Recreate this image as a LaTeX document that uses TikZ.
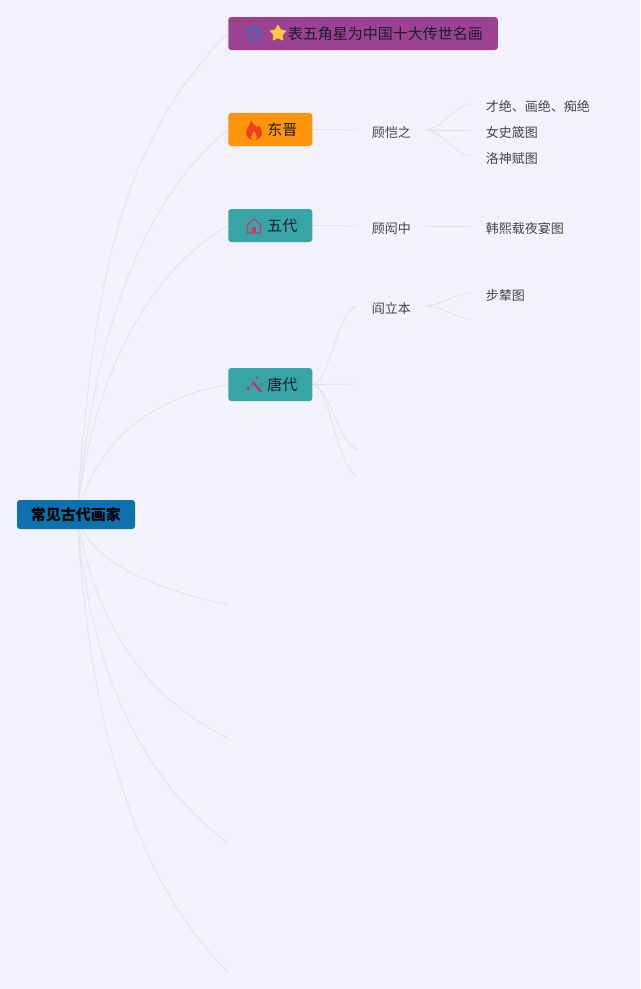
\documentclass[tikz,border=0pt]{standalone}
\usepackage{fontspec}
\setmainfont{Noto Sans CJK SC}
\usetikzlibrary{shapes.geometric,backgrounds,calc}
\definecolor{bgc}{HTML}{F3F1FB}
\definecolor{linec}{HTML}{E2E0E7}
\definecolor{purplec}{HTML}{9C4292}
\definecolor{orangec}{HTML}{FD940A}
\definecolor{tealc}{HTML}{37A5A5}
\definecolor{rootc}{HTML}{0B72AE}
\definecolor{darktext}{HTML}{1C1C2A}
\definecolor{leaftext}{HTML}{45454F}
\definecolor{pinkc}{HTML}{CC3A66}
\definecolor{magc}{HTML}{C92F6B}
\definecolor{bluestar}{HTML}{3F6DB5}
\definecolor{goldstar}{HTML}{FFC93A}
\definecolor{flamec}{HTML}{EE401A}
\tikzset{
  x=0.75pt,y=-0.75pt,
  topicbox/.style={rectangle,rounded corners=2.2pt,fill=#1,text=darktext,minimum height=24.75pt,inner xsep=11.25pt,inner ysep=0pt,anchor=west,font=\fontsize{11.25}{13}\selectfont},
  rootbox/.style={rectangle,rounded corners=2.2pt,fill=rootc,text=black,minimum height=21.75pt,minimum width=88.5pt,inner xsep=0pt,inner ysep=0pt,font=\fontsize{11.25}{13}\selectfont\bfseries},
  leaf/.style={rectangle,text=leaftext,inner xsep=11pt,inner ysep=1pt,anchor=west,font=\fontsize{9.75}{12}\selectfont},
  conn/.style={draw=linec,line width=0.55pt},
  staricon/.style={star,star points=5,star point ratio=2.0,minimum size=#1,inner sep=0pt,rounded corners=0.9pt},
}
\begin{document}
\begin{tikzpicture}
\useasboundingbox (0,0) rectangle (640,989);
% nodes
\node[rootbox] (root) at (76,514.5) {常见古代画家};
\coordinate (hub) at (77,515);
\node[topicbox=purplec] (t0) at (228,33.5) {\hspace*{33.4pt}表五角星为中国十大传世名画};
\node[topicbox=orangec] (t1) at (228,129.5) {\hspace*{18pt}东晋};
\node[topicbox=tealc] (t2) at (228,225.5) {\hspace*{18pt}五代};
\node[topicbox=tealc] (t3) at (228,384.5) {\hspace*{18pt}唐代};
\node[leaf] (gu) at (357,132.5) {顾恺之};
\node[leaf] (ga) at (471,106.5) {才绝、画绝、痴绝};
\node[leaf] (gb) at (471,132.5) {女史箴图};
\node[leaf] (gc) at (471,158.5) {洛神赋图};
\node[leaf] (hong) at (357,228.5) {顾闳中};
\node[leaf] (han) at (471,228.5) {韩熙载夜宴图};
\node[leaf] (yan) at (357,308.5) {阎立本};
\node[leaf] (bu) at (471,295.5) {步辇图};
\coordinate (yanb) at (472,319);
\coordinate (tb) at (358,384);
\coordinate (tc) at (358,449);
\coordinate (td) at (358,476);
\coordinate (e1) at (228,605);
\coordinate (e2) at (228,738);
\coordinate (e3) at (228,843);
\coordinate (e4) at (228,972);
% icons
\node[staricon=12.5pt,draw=bluestar,line width=1.5pt,line join=round] (s1) at (254,33.5) {};
\node[staricon=14pt,fill=goldstar] (s2) at (278,33.5) {};
\fill[flamec] (251,120) .. controls (252,124) and (256,125) .. (257,128)
  .. controls (258,127.5) and (258.5,126.5) .. (258.5,125.5)
  .. controls (261,128) and (262,131) .. (262,133)
  .. controls (262,137) and (258,140) .. (254,140)
  .. controls (250,140) and (246,137) .. (246,133)
  .. controls (246,129) and (250,126) .. (251,120) -- cycle;
\fill[orangec] (254,131) .. controls (254.5,133) and (257,134) .. (257,137)
  .. controls (257,139) and (255.5,140) .. (254,140)
  .. controls (252.5,140) and (251,139) .. (251,137)
  .. controls (251,134.5) and (253.5,133.5) .. (254,131) -- cycle;
\draw[pinkc,line width=0.9pt,line join=round] (246,226) -- (254,219) -- (262,226) (247.5,225) -- (247.5,233) -- (260.5,233) -- (260.5,225);
\fill[pinkc] (252,227) rectangle (256,233);
\draw[magc,line width=1.6pt] (252.5,382) -- (261.5,392);
\fill[magc] (248,388.5) circle (1.9) (251.5,385.5) circle (1.2) (257,377.5) circle (1.4) (261,384) circle (1);
% connectors
\begin{scope}[on background layer]
\fill[bgc] (0,0) rectangle (640,989);
\draw[conn] (hub) .. controls (92,300) and (115,145) .. (t0.west);
\draw[conn] (hub) .. controls (92,360) and (130,210) .. (t1.west);
\draw[conn] (hub) .. controls (90,400) and (135,280) .. (t2.west);
\draw[conn] (hub) .. controls (95,450) and (140,400) .. (t3.west);
\draw[conn] (hub) .. controls (85,550) and (125,582) .. (e1);
\draw[conn] (hub) .. controls (90,600) and (130,690) .. (e2);
\draw[conn] (hub) .. controls (88,650) and (130,770) .. (e3);
\draw[conn] (hub) .. controls (88,700) and (125,870) .. (e4);
\draw[conn] (t1.east) -- ([yshift=1.9pt]gu.west);
\draw[conn] ([yshift=1.9pt]gu.east) .. controls +(14,0) and +(-14,0) .. ([yshift=1.9pt]ga.west);
\draw[conn] ([yshift=1.9pt]gu.east) -- ([yshift=1.9pt]gb.west);
\draw[conn] ([yshift=1.9pt]gu.east) .. controls +(14,0) and +(-14,0) .. ([yshift=1.9pt]gc.west);
\draw[conn] (t2.east) -- ([yshift=1.9pt]hong.west);
\draw[conn] ([yshift=1.9pt]hong.east) -- ([yshift=1.9pt]han.west);
\draw[conn] (t3.east) .. controls +(16,0) and +(-18,0) .. ([yshift=1.9pt]yan.west);
\draw[conn] (t3.east) -- (tb);
\draw[conn] (t3.east) .. controls +(16,0) and +(-18,0) .. (tc);
\draw[conn] (t3.east) .. controls +(16,0) and +(-18,0) .. (td);
\draw[conn] ([yshift=1.9pt]yan.east) .. controls +(14,0) and +(-14,0) .. ([yshift=1.9pt]bu.west);
\draw[conn] ([yshift=1.9pt]yan.east) .. controls +(14,0) and +(-14,0) .. (yanb);
\end{scope}
\end{tikzpicture}
\end{document}
